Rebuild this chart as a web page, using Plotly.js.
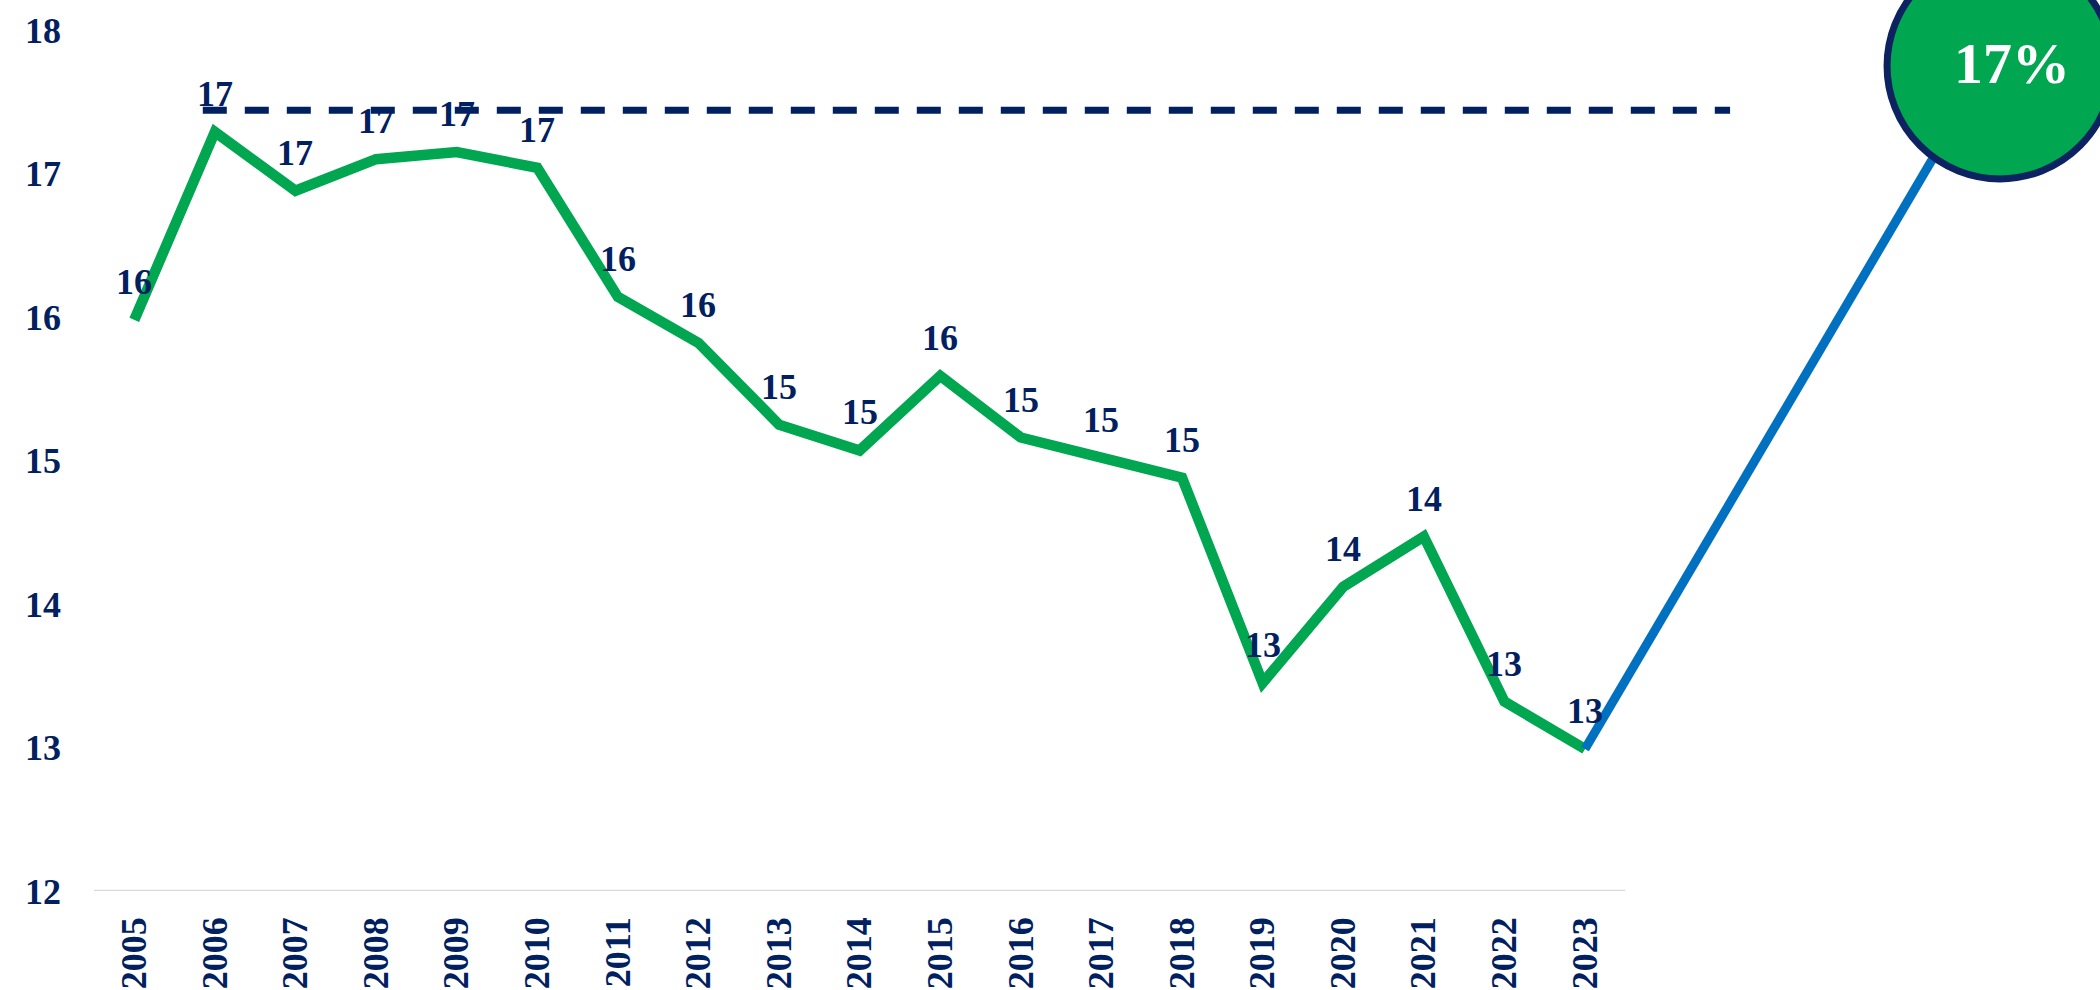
<!DOCTYPE html>
<html>
<head>
<meta charset="utf-8">
<script src="https://cdn.plot.ly/plotly-3.0.1.min.js"></script>
<style>
  html, body { margin: 0; padding: 0; background: #ffffff; }
  #chart { width: 2100px; height: 990px; }
</style>
</head>
<body>
<div id="chart"></div>
<script>
// ---- data ----
const years = [2005, 2006, 2007, 2008, 2009, 2010, 2011, 2012, 2013, 2014,
               2015, 2016, 2017, 2018, 2019, 2020, 2021, 2022, 2023];
const values = [15.98, 17.29, 16.88, 17.10, 17.15, 17.04, 16.14, 15.82, 15.25, 15.07,
                15.59, 15.16, 15.02, 14.88, 13.45, 14.12, 14.47, 13.32, 12.99];
const yTicks = [12, 13, 14, 15, 16, 17, 18];
const yearLabels = years.map(String);

// reference (dashed) level
const refLineX = [2005.85, 2024.8];
const refLineY = [17.44, 17.44];

// projection towards target
const projX = [2023, 2028.15];
const projY = [12.99, 17.9];
const targetX = [2028.15];
const targetY = [17.75];
const targetLabel = ["17%"];

// ---- styles ----
const NAVY = "#002060";
const GREEN = "#00A650";
const BLUE = "#0070C0";
const FONT = "Liberation Serif";

const traces = [
  {
    x: years, y: values, type: "scatter", mode: "lines",
    line: { color: GREEN, width: 10.5 },
    cliponaxis: false, hoverinfo: "skip"
  },
  {
    x: refLineX, y: refLineY, type: "scatter", mode: "lines",
    line: { color: NAVY, width: 7, dash: "24px,18px" },
    cliponaxis: false, hoverinfo: "skip"
  },
  {
    x: projX, y: projY, type: "scatter", mode: "lines",
    line: { color: BLUE, width: 9 },
    cliponaxis: false, hoverinfo: "skip"
  },
  {
    x: targetX, y: targetY, type: "scatter", mode: "markers",
    marker: { size: 226, color: GREEN, line: { color: "#0D2260", width: 7 } },
    cliponaxis: false, hoverinfo: "skip"
  }
];

const annotations = years.map((yr, i) => ({
  x: yr, y: values[i], xref: "x", yref: "y",
  text: String(Math.round(values[i])),
  showarrow: false, xanchor: "center", yanchor: "middle", yshift: 38,
  font: { family: FONT, size: 36, color: NAVY, weight: "bold" }
}));
annotations.push({
  x: targetX[0], y: targetY[0], xref: "x", yref: "y",
  text: targetLabel[0], showarrow: false, xanchor: "center", yanchor: "middle",
  xshift: 12, yshift: 2,
  font: { family: FONT, size: 58, color: "#ffffff", weight: "bold" }
});

const layout = {
  width: 2100, height: 990,
  margin: { l: 94, r: 0, t: 30, b: 99, pad: 0 },
  paper_bgcolor: "#ffffff", plot_bgcolor: "#ffffff",
  showlegend: false, hovermode: false,
  xaxis: {
    type: "linear", range: [2004.5, 2029.39],
    tickmode: "array", tickvals: years, ticktext: yearLabels,
    tickangle: -90, ticks: "", showgrid: false, zeroline: false, showline: false,
    ticklabelstandoff: 18,
    tickfont: { family: FONT, size: 36, color: NAVY, weight: "bold" }
  },
  yaxis: {
    range: [12, 18], tickmode: "array", tickvals: yTicks,
    ticks: "", showgrid: false, zeroline: false, showline: false,
    ticklabelstandoff: 32,
    tickfont: { family: FONT, size: 36, color: NAVY, weight: "bold" }
  },
  shapes: [{
    type: "line", xref: "x", yref: "y",
    x0: years[0] - 0.5, x1: years[years.length - 1] + 0.5, y0: yTicks[0], y1: yTicks[0],
    line: { color: "#D9D9D9", width: 2.5 }, layer: "below"
  }],
  annotations: annotations
};

Plotly.newPlot("chart", traces, layout, { displayModeBar: false, staticPlot: true });
</script>
</body>
</html>
